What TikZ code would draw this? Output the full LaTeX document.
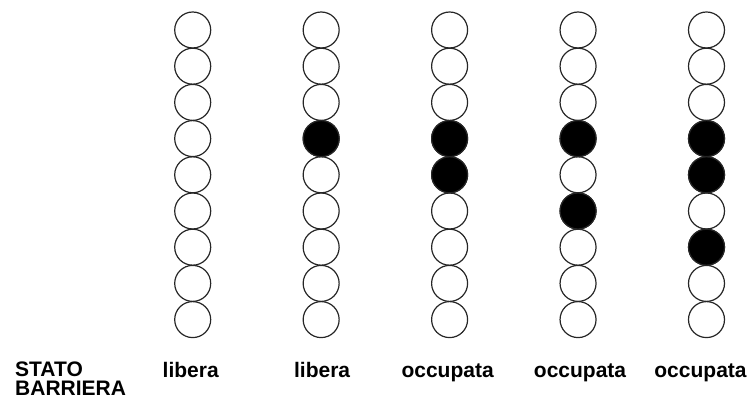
\documentclass[tikz,border=0pt]{standalone}
\usepackage{fontspec}
\setmainfont{Liberation Sans}
\usetikzlibrary{positioning}
\tikzset{
  cell/.style  = {circle, draw=black!85, line width=1.2pt,
                  minimum size=36pt, inner sep=0pt},
  full/.style  = {cell, fill=black},
  stato/.style = {font=\fontsize{21}{19}\selectfont\bfseries},
}

\begin{document}
\begin{tikzpicture}[x=1pt, y=1pt]
  \useasboundingbox (0,0) rectangle (749,406);

  % the five columns of cells
  \foreach \col in {1,...,5} {
    \foreach \row in {1,...,9} {
      \node[cell] (c\col-\row) at ({192.7+128.45*(\col-1)}, {376-36.2*(\row-1)}) {};
    }
  }

  % occupied cells
  \foreach \col/\row in {2/4, 3/4, 3/5, 4/4, 4/6, 5/4, 5/5, 5/7}
    \node[full] (f\col-\row) at (c\col-\row) {};

  % state of the barrier
  \node[stato, align=left, anchor=base west, inner sep=0pt] (title) at (15,10)
    {STATO\\BARRIERA};
  \node[stato, below=39.5pt of c1-9, anchor=base, xshift=-2pt] (s1) {libera};
  \node[stato, below=39.5pt of c2-9, anchor=base, xshift=1pt]  (s2) {libera};
  \node[stato, below=39.5pt of c3-9, anchor=base, xshift=-2pt] (s3) {occupata};
  \node[stato, below=39.5pt of c4-9, anchor=base, xshift=2pt]  (s4) {occupata};
  \node[stato, below=39.5pt of c5-9, anchor=base, xshift=-6pt] (s5) {occupata};

\end{tikzpicture}
\end{document}
